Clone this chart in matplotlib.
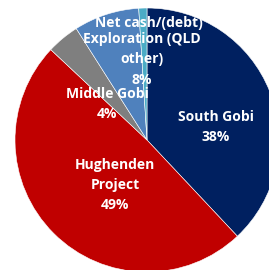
import matplotlib.pyplot as plt

# Slice data (clockwise from 12 o'clock)
labels = ["South Gobi", "Hughenden\nProject", "Middle Gobi", "Exploration (QLD\nother)", "Net cash/(debt)"]
shares = [38, 49, 4, 8, 1]
show_pct = [True, True, True, True, False]
colors = ["#002060", "#C00000", "#7F7F7F", "#4F81BD", "#4BACC6"]

# label centres in pie units (radius = 1)
label_pos = [(0.52, 0.10), (-0.24, -0.34), (-0.30, 0.27), (-0.04, 0.61), (0.015, 0.89)]

fig = plt.figure(figsize=(2.69, 2.70), dpi=100)
ax = fig.add_axes([0, 0, 1, 1])

ax.pie(shares, colors=colors, startangle=90, counterclock=False, radius=1.0,
       wedgeprops=dict(edgecolor="white", linewidth=0.4))

for lab, val, pct, (x, y) in zip(labels, shares, show_pct, label_pos):
    txt = f"{lab}\n{val}%" if pct else lab
    ax.text(x, y, txt, ha="center", va="center", color="white",
            fontsize=10, fontweight="bold", family="Open Sans", linespacing=1.55)

# pie centre sits at (147, 140) px with a 132 px radius, cropped right and bottom
ax.set_xlim(-147 / 132, (269 - 147) / 132)
ax.set_ylim(-(270 - 140) / 132, 140 / 132)
ax.set_aspect("auto")
ax.axis("off")

fig.savefig("out.png", dpi=100)
